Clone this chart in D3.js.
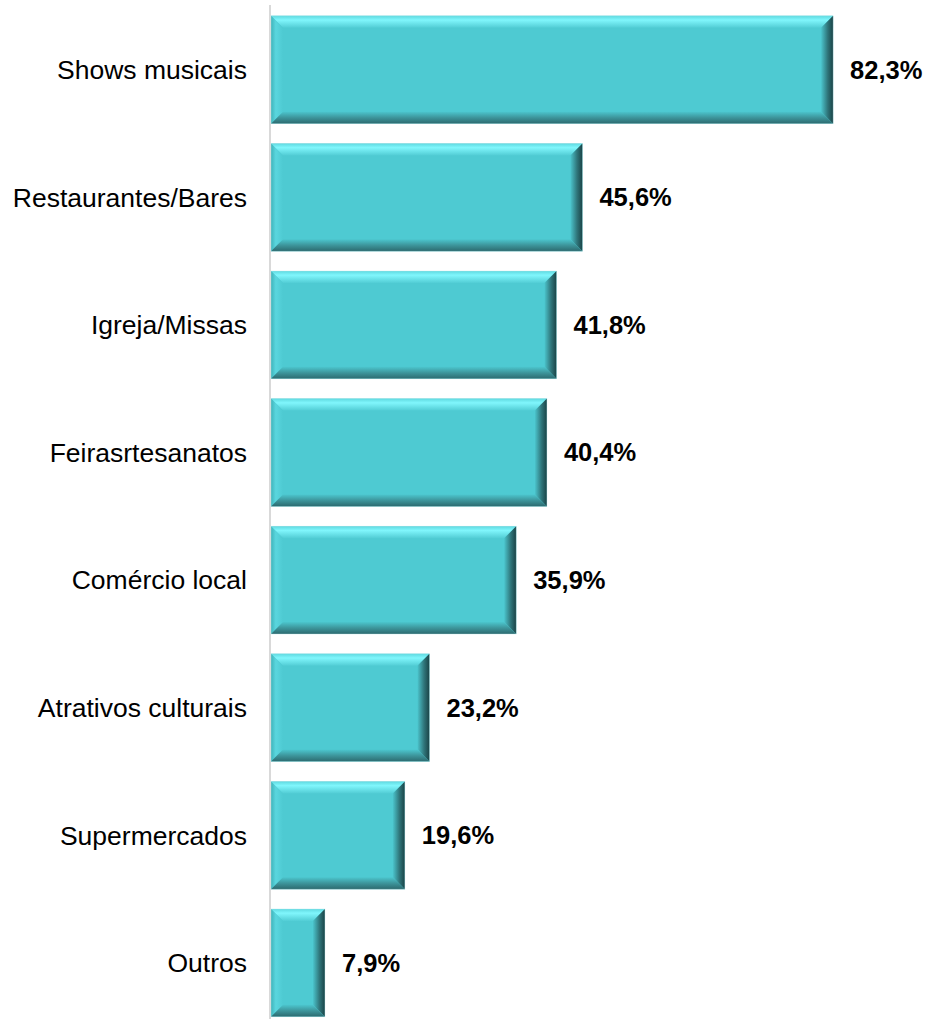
<!DOCTYPE html>
<html>
<head>
<meta charset="utf-8">
<script src="https://cdn.jsdelivr.net/npm/d3@7"></script>
<style>
  html, body { margin: 0; padding: 0; background: #fff; }
  svg { display: block; }
</style>
</head>
<body>
<svg id="chart" width="930" height="1019"></svg>
<script>
// Atividades procuradas (%)
const categories = [
  "Shows musicais",
  "Restaurantes/Bares",
  "Igreja/Missas",
  "Feirasrtesanatos",
  "Comércio local",
  "Atrativos culturais",
  "Supermercados",
  "Outros"
];
const values = [82.3, 45.6, 41.8, 40.4, 35.9, 23.2, 19.6, 7.9];

const svg = d3.select("#chart");
const W = 930, H = 1019;
const x0 = 271;

const x = d3.scaleLinear().domain([0, 100]).range([x0, x0 + 683]);
const y = d3.scaleBand().domain(categories).range([5.6, 1027]).paddingInner(0.155).paddingOuter(0.08);

const fmt = v => d3.format(".1f")(v).replace(".", ",") + "%";

// gradients for the bevelled edges
const defs = svg.append("defs");
function grad(id, x1, y1, x2, y2, stops) {
  const g = defs.append("linearGradient").attr("id", id)
    .attr("x1", x1).attr("y1", y1).attr("x2", x2).attr("y2", y2);
  stops.forEach(([o, c]) => g.append("stop").attr("offset", o).attr("stop-color", c));
}
grad("gTop", 0, 0, 0, 1, [[0, "#5fd9e0"], [0.35, "#80f6fc"], [1, "#52cdd5"]]);
grad("gLeft", 0, 0, 1, 0, [[0, "#3fb3ba"], [0.4, "#5ad6de"], [1, "#4ecad2"]]);
grad("gRight", 1, 0, 0, 0, [[0, "#1a4346"], [0.45, "#2f757a"], [1, "#4bc4cc"]]);
grad("gBottom", 0, 1, 0, 0, [[0, "#2c6a6f"], [0.5, "#3d959b"], [1, "#4cc6ce"]]);

// axis line
svg.append("line")
  .attr("x1", x0 - 1).attr("x2", x0 - 1)
  .attr("y1", 5).attr("y2", H)
  .attr("stroke", "#d9d9d9").attr("stroke-width", 2);

const bevel = 12;
const bars = svg.append("g").selectAll("g")
  .data(categories.map((c, i) => ({ c, v: values[i] })))
  .join("g");

bars.each(function(d) {
  const g = d3.select(this);
  const L = x(0), R = x(d.v), T = y(d.c), B = y(d.c) + y.bandwidth();
  const b = Math.min(bevel, (R - L) / 2.5);
  g.append("rect").attr("x", L).attr("y", T).attr("width", R - L).attr("height", B - T)
    .attr("fill", "#4ecad2");
  const poly = (pts, fill) => g.append("polygon")
    .attr("points", pts.map(p => p.join(",")).join(" ")).attr("fill", fill);
  poly([[L, T], [R, T], [R - b, T + b], [L + b, T + b]], "url(#gTop)");
  poly([[L, T], [L + b, T + b], [L + b, B - b], [L, B]], "url(#gLeft)");
  poly([[R, T], [R, B], [R - b, B - b], [R - b, T + b]], "url(#gRight)");
  poly([[L, B], [L + b, B - b], [R - b, B - b], [R, B]], "url(#gBottom)");
  g.append("rect").attr("x", L).attr("y", T).attr("width", R - L).attr("height", B - T)
    .attr("fill", "none").attr("stroke", "#bfe9ec").attr("stroke-width", 0.6).attr("stroke-opacity", 0.6);
});

// category labels
svg.append("g").selectAll("text")
  .data(categories)
  .join("text")
  .attr("x", 247)
  .attr("y", d => y(d) + y.bandwidth() / 2)
  .attr("dy", "0.35em")
  .attr("text-anchor", "end")
  .attr("font-family", "Liberation Sans, Arial, sans-serif")
  .attr("font-size", 26.5)
  .attr("fill", "#000")
  .text(d => d);

// value labels
svg.append("g").selectAll("text")
  .data(categories.map((c, i) => ({ c, v: values[i] })))
  .join("text")
  .attr("x", d => x(d.v) + 17)
  .attr("y", d => y(d.c) + y.bandwidth() / 2)
  .attr("dy", "0.35em")
  .attr("font-family", "Liberation Sans, Arial, sans-serif")
  .attr("font-size", 25.5)
  .attr("font-weight", "bold")
  .attr("fill", "#000")
  .text(d => fmt(d.v));
</script>
</body>
</html>
